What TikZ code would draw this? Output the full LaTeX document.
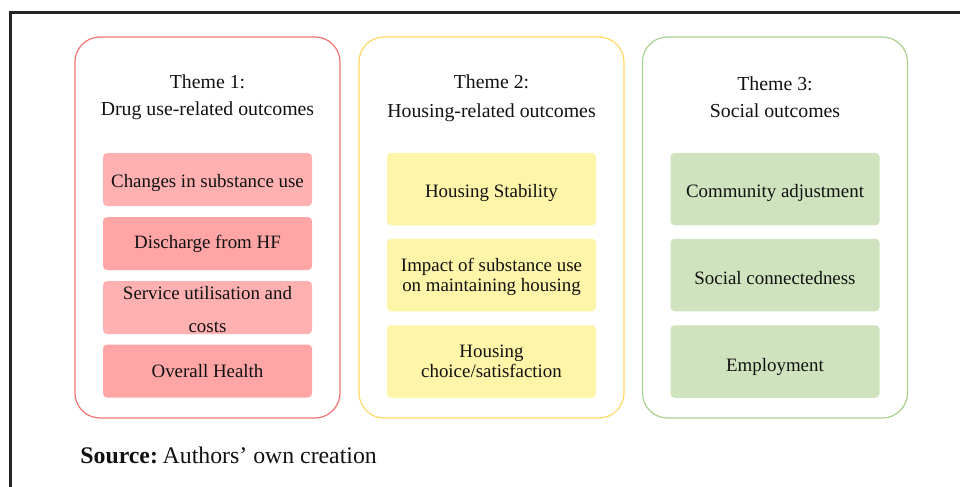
\documentclass[tikz,border=0pt]{standalone}
\usepackage{fontspec}
\setmainfont{Liberation Serif}
\definecolor{frameline}{HTML}{262626}
\definecolor{redline}{HTML}{F27373}
\definecolor{yellowline}{HTML}{FFD966}
\definecolor{greenline}{HTML}{A9D18E}
\definecolor{pinkA}{HTML}{FFB1B1}
\definecolor{pinkB}{HTML}{FFA5A5}
\definecolor{yellowfill}{HTML}{FFF5A8}
\definecolor{greenfill}{HTML}{CFE3BF}
\definecolor{inktext}{HTML}{111111}
\tikzset{
  themebox/.style={draw=#1, line width=0.6pt, rounded corners=12.5pt,
    minimum width=132.5pt, minimum height=190.5pt, inner sep=0pt},
  themetitle/.style={align=center, text=inktext, inner sep=0pt,
    font=\fontsize{9.9}{#1}\selectfont},
  itembox/.style={fill=#1, draw=none, rounded corners=2pt,
    minimum width=104.5pt, inner sep=0pt},
  shortitem/.style={itembox=#1, minimum height=26.5pt},
  tallitem/.style={itembox=#1, minimum height=36.25pt},
  itemtext/.style={align=center, text=inktext, inner sep=0pt,
    font=\fontsize{9.45}{#1}\selectfont},
  itemtext/.default=10pt,
}
% text of a box, placed relative to the box centre
\newcommand\itemlabel[4][10pt]{%
  \node[itemtext=#1] (#2text) at ([yshift=#3]#2.center) {#4};}
\begin{document}
\begin{tikzpicture}[x=0.5pt, y=-0.5pt]
  \useasboundingbox (0,0) rectangle (960,487);

  % page frame
  \coordinate (frameBL) at (10,489);
  \coordinate (frameTL) at (10,12);
  \coordinate (frameTR) at (962,12);
  \draw[frameline, line width=1.5pt] (frameBL) -- (frameTL) -- (frameTR);

  % theme containers
  \node[themebox=redline]    (t1) at (207.5,227.5) {};
  \node[themebox=yellowline] (t2) at (491.5,227.5) {};
  \node[themebox=greenline]  (t3) at (775,227.5) {};

  % theme headings
  \node[themetitle=13.5pt] (t1title) at (207.5,97) {Theme 1:\\Drug use-related outcomes};
  \node[themetitle=14.5pt] (t2title) at (491.5,98) {Theme 2:\\Housing-related outcomes};
  \node[themetitle=13.5pt] (t3title) at (775,97) {Theme 3:\\Social outcomes};

  % theme 1 items
  \node[shortitem=pinkA] (a1) at (207.5,179.5) {};
  \node[shortitem=pinkB] (a2) at (207.5,243.5) {};
  \node[shortitem=pinkA] (a3) at (207.5,307.5) {};
  \node[shortitem=pinkB] (a4) at (207.5,371) {};
  \itemlabel{a1}{-1.6pt}{Changes in substance use}
  \itemlabel{a2}{-0.3pt}{Discharge from HF}
  \itemlabel[16.5pt]{a3}{-0.8pt}{Service utilisation and\\costs}
  \itemlabel{a4}{0pt}{Overall Health}

  % theme 2 items
  \node[tallitem=yellowfill] (b1) at (491.5,189) {};
  \node[tallitem=yellowfill] (b2) at (491.5,275) {};
  \node[tallitem=yellowfill] (b3) at (491.5,361.5) {};
  \itemlabel{b1}{-1.8pt}{Housing Stability}
  \itemlabel{b2}{-0.8pt}{Impact of substance use\\on maintaining housing}
  \itemlabel{b3}{0.2pt}{Housing\\choice/satisfaction}

  % theme 3 items
  \node[tallitem=greenfill] (c1) at (775,189) {};
  \node[tallitem=greenfill] (c2) at (775,275) {};
  \node[tallitem=greenfill] (c3) at (775,361.5) {};
  \itemlabel{c1}{-1.8pt}{Community adjustment}
  \itemlabel{c2}{-1.3pt}{Social connectedness}
  \itemlabel{c3}{-2.8pt}{Employment}

  % source line
  \node[anchor=base west, inner sep=0pt, text=inktext, font=\fontsize{11.9}{14}\selectfont]
    (source) at (80,463) {\textbf{Source:}\hspace{0.2em}Authors’ own creation};
\end{tikzpicture}
\end{document}
